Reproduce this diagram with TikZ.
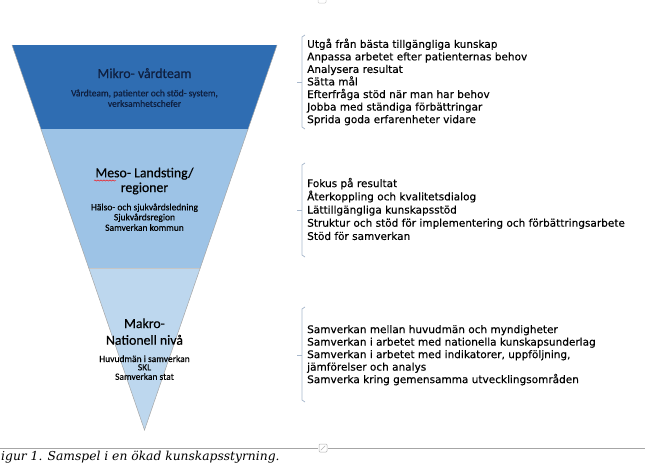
\documentclass[tikz,border=0pt]{standalone}
\usepackage{fontspec}
\setmainfont{Carlito}[FakeBold=0.4]
\newfontfamily\verd{DejaVu Sans}[FakeBold=0.3]
\newfontfamily\capf{DejaVu Serif}
\usetikzlibrary{decorations.pathmorphing}
\definecolor{darkband}{HTML}{2F6DB2}
\definecolor{midband}{HTML}{9DC3E6}
\definecolor{lightband}{HTML}{BDD7EE}
\definecolor{navy}{HTML}{0F1F3F}
\definecolor{brk}{HTML}{A8B8CC}
\begin{document}
\begin{tikzpicture}[x=1pt,y=-1pt,
  ttl/.style={anchor=base, font=\fontsize{13.8}{15}\selectfont, inner sep=0, text=black},
  sub/.style={anchor=base, font=\fontsize{9.5}{10}\selectfont, inner sep=0, text=black},
  itm/.style={anchor=base west, font=\verd\fontsize{10.5}{12.6}\selectfont, inner sep=0, text=black},
  brace/.style={draw=brk, line width=0.8pt},
  handle/.style={draw=gray!60, line width=0.5pt, rounded corners=1pt}]
\useasboundingbox (0,0) rectangle (645,463);
\clip (0,0) rectangle (645,463);
% triangle
\coordinate (TL) at (12,45);
\coordinate (TR) at (277,45);
\coordinate (A) at (144.5,430);
\coordinate (L1) at (40.9,129);
\coordinate (R1) at (248.1,129);
\coordinate (L2) at (88.75,268);
\coordinate (R2) at (200.25,268);
\fill[darkband] (TL) -- (TR) -- (R1) -- (L1) -- cycle;
\fill[midband] (L1) -- (R1) -- (R2) -- (L2) -- cycle;
\fill[lightband] (L2) -- (R2) -- (A) -- cycle;
\draw[gray!45, line width=0.4pt] (L2) -- (R2);
\draw[gray!70, line width=0.5pt] (TL) -- (A) -- (TR);
% micro
\node[ttl, text=navy] (mikro) at (144.5,78) {Mikro- vårdteam};
\node[sub, text=navy] (mikro1) at (144.5,96.3) {Vårdteam, patienter och stöd- system,};
\node[sub, text=navy] (mikro2) at (144.5,106.8) {verksamhetschefer};
% meso
\node[ttl] (meso) at (144.5,177.3) {Meso- Landsting/};
\node[ttl] (meso2) at (144.5,192) {regioner};
\node[sub] (meso3) at (144.5,210.3) {Hälso- och sjukvårdsledning};
\node[sub] (meso4) at (144.5,220.3) {Sjukvårdsregion};
\node[sub] (meso5) at (144.5,230.8) {Samverkan kommun};
\draw[red, line width=0.4pt, decorate, decoration={snake, amplitude=0.6pt, segment length=3pt}] (94,180.5) -- (116,180.5);
% macro
\node[ttl] (makro) at (144.5,328) {Makro-};
\node[ttl] (makro2) at (144.5,344.7) {Nationell nivå};
\node[sub] (makro3) at (144.5,362) {Huvudmän i samverkan};
\node[sub] (makro4) at (144.5,370.4) {SKL};
\node[sub] (makro5) at (144.5,379.8) {Samverkan stat};
% right lists
\foreach \t [count=\i] in {Utgå från bästa tillgängliga kunskap, Anpassa arbetet efter patienternas behov, Analysera resultat, Sätta mål, Efterfråga stöd när man har behov, Jobba med ständiga förbättringar, Sprida goda erfarenheter vidare}
  \node[itm] (a\i) at (307, 47.8+12.55*\i-12.55) {\t};
\foreach \t [count=\i] in {Fokus på resultat, Återkoppling och kvalitetsdialog, Lättillgängliga kunskapsstöd, Struktur och stöd för implementering och förbättringsarbete, Stöd för samverkan}
  \node[itm] (b\i) at (307, 187.1+13.2*\i-13.2) {\t};
\foreach \t [count=\i] in {Samverkan mellan huvudmän och myndigheter, Samverkan i arbetet med nationella kunskapsunderlag, {Samverkan i arbetet med indikatorer, uppföljning,}, jämförelser och analys, Samverka kring gemensamma utvecklingsområden}
  \node[itm] (c\i) at (307, 333.1+12.5*\i-12.5) {\t};
% braces
\draw[brace] (305,35) -- (302,37) -- (302,127) -- (305,129);
\draw[brace] (302,82) -- (297,82);
\draw[brace] (305,163) -- (302,165) -- (302,255) -- (305,257);
\draw[brace] (302,210) -- (297,210);
\draw[brace] (305,307) -- (302,309) -- (302,400) -- (305,402);
\draw[brace] (302,355) -- (297,355);
% caption
\draw[gray!70, line width=0.6pt] (0,448) -- (645,448);
\fill[white] (318,443) rectangle (328,453);
\draw[handle] (319,444) rectangle (327,452);
\draw[gray!60, line width=0.5pt] (320.8,450.2) -- (325.2,445.8);
\draw[handle, draw=gray!40] (318,-4) rectangle (326,3);
\node[anchor=base west, font=\capf\itshape\fontsize{12.3}{15}\selectfont, inner sep=0] (cap) at (1,460.5) {igur 1. Samspel i en ökad kunskapsstyrning.};
\end{tikzpicture}
\end{document}
